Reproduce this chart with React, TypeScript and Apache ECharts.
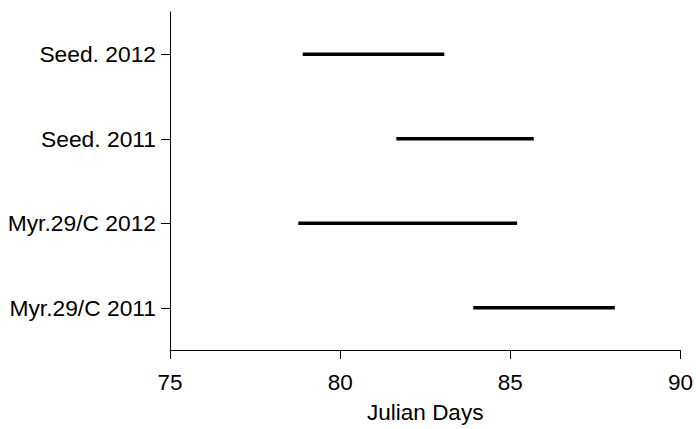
import React, { useEffect, useRef } from "react";
import * as echarts from "echarts";

const categories = ["Myr.29/C 2011", "Myr.29/C 2012", "Seed. 2011", "Seed. 2012"];
const startDays = [83.91, 78.77, 81.65, 78.9];
const endDays = [88.07, 85.2, 85.69, 83.06];
const xTicks = [75, 80, 85, 90];

export default function App() {
  const ref = useRef<HTMLDivElement>(null);
  useEffect(() => {
    document.body.style.margin = "0";
    const chart = echarts.init(ref.current!, null, { renderer: "svg" });
    const font = "'Liberation Sans', Arial, Helvetica, sans-serif";
    const data = categories.map((c, i) => [i, startDays[i], endDays[i]]);
    chart.setOption({
      animation: false,
      backgroundColor: "#ffffff",
      grid: { left: 170, right: 13, top: 12, bottom: 76 },
      xAxis: {
        type: "value",
        min: xTicks[0],
        max: xTicks[xTicks.length - 1],
        interval: 5,
        name: "Julian Days",
        nameLocation: "middle",
        nameGap: 51,
        nameTextStyle: { color: "#000", fontSize: 22.5, fontFamily: font },
        axisLine: { show: true, lineStyle: { color: "#000", width: 1 } },
        axisTick: { show: true, length: 9, lineStyle: { color: "#000" } },
        axisLabel: { color: "#000", fontSize: 22.5, fontFamily: font, margin: 21 },
        splitLine: { show: false },
      },
      yAxis: {
        type: "category",
        data: categories,
        boundaryGap: true,
        axisLine: { show: true, lineStyle: { color: "#000", width: 1 } },
        axisTick: { show: true, length: 9, alignWithLabel: true, lineStyle: { color: "#000" } },
        axisLabel: { color: "#000", fontSize: 22.8, fontFamily: font, margin: 14 },
        splitLine: { show: false },
      },
      series: [
        {
          type: "custom",
          data,
          encode: { x: [1, 2], y: 0 },
          renderItem: (params: any, api: any) => {
            const idx = api.value(0);
            const p1 = api.coord([api.value(1), idx]);
            const p2 = api.coord([api.value(2), idx]);
            return {
              type: "line",
              shape: { x1: p1[0], y1: p1[1], x2: p2[0], y2: p2[1] },
              style: { stroke: "#000", lineWidth: 3.6, lineCap: "butt" },
            };
          },
        },
      ],
    });
    return () => chart.dispose();
  }, []);
  return <div ref={ref} style={{ width: 696, height: 429 }} />;
}
